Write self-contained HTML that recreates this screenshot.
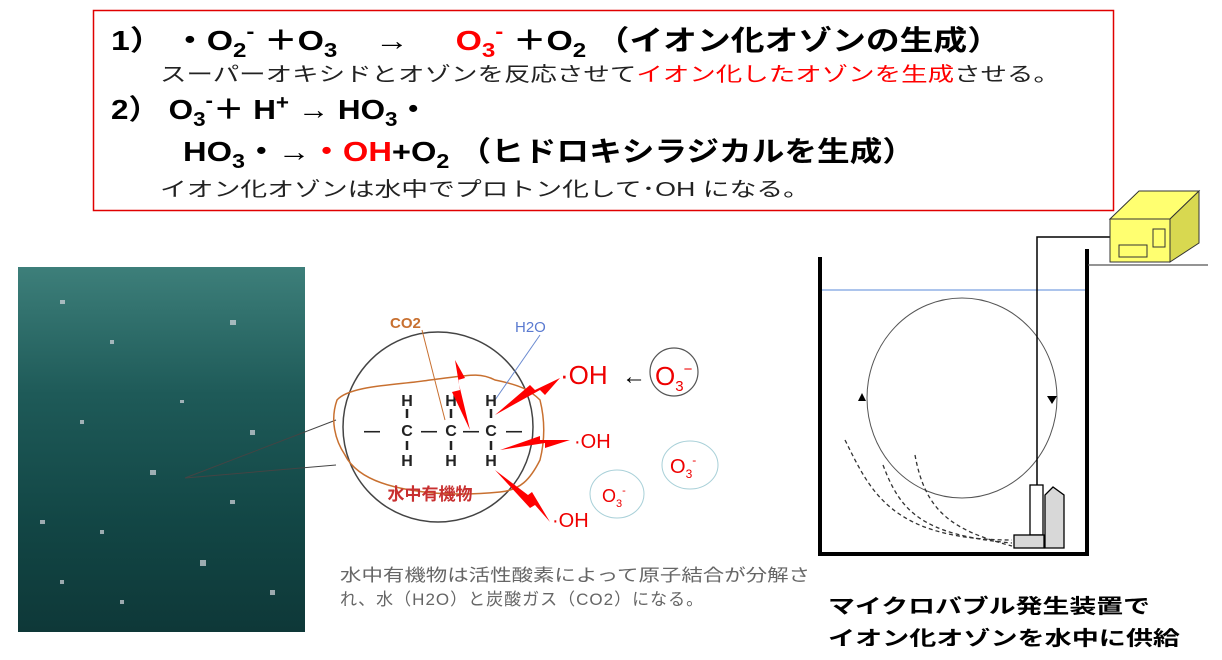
<!DOCTYPE html>
<html><head><meta charset="utf-8"><style>
body{margin:0;width:1222px;height:660px;background:#fff;position:relative;overflow:hidden;font-family:"Liberation Sans","Noto Sans CJK JP",sans-serif;}
svg{position:absolute;left:0;top:0;}
text{font-family:"Liberation Sans","Noto Sans CJK JP",sans-serif;}
</style></head><body>
<svg width="1222" height="660">
<defs><linearGradient id="g" x1="0" y1="0" x2="0" y2="1"><stop offset="0" stop-color="#3d7f7a"/><stop offset="0.35" stop-color="#1e5a58"/><stop offset="0.7" stop-color="#124645"/><stop offset="1" stop-color="#0e3838"/></linearGradient></defs>
<rect x="93.5" y="10.5" width="1020" height="200" fill="none" stroke="#e00000" stroke-width="1.5"/>
<text x="111" y="50" font-size="28" font-weight="bold" textLength="890" lengthAdjust="spacingAndGlyphs">1） ・O<tspan font-size="20" dy="7">2</tspan><tspan font-size="20" dy="-19">-</tspan><tspan dy="12">&#160;＋O</tspan><tspan font-size="20" dy="7">3</tspan><tspan dy="-7">&#160;&#160;&#160;&#160;→&#160;&#160;&#160;&#160;&#160;</tspan><tspan fill="#f00">O</tspan><tspan fill="#f00" font-size="20" dy="7">3</tspan><tspan fill="#f00" font-size="20" dy="-19">-</tspan><tspan dy="12">&#160;＋O</tspan><tspan font-size="20" dy="7">2</tspan><tspan dy="-7">&#160;（イオン化オゾンの生成）</tspan></text>
<text x="160" y="81" font-size="20" fill="#222" textLength="900" lengthAdjust="spacingAndGlyphs">スーパーオキシドとオゾンを反応させて<tspan fill="#f00">イオン化したオゾンを生成</tspan>させる。</text>
<text x="111" y="119" font-size="28" font-weight="bold" textLength="318" lengthAdjust="spacingAndGlyphs">2）&#160;O<tspan font-size="20" dy="7">3</tspan><tspan font-size="20" dy="-19">-</tspan><tspan dy="12">＋ H</tspan><tspan font-size="20" dy="-10">+</tspan><tspan dy="10" font-weight="normal">&#160;→&#160;</tspan>HO<tspan font-size="20" dy="7">3</tspan><tspan dy="-7">・</tspan></text>
<text x="183" y="161" font-size="28" font-weight="bold" textLength="732" lengthAdjust="spacingAndGlyphs">HO<tspan font-size="20" dy="7">3</tspan><tspan dy="-7">・</tspan><tspan font-weight="normal">→</tspan><tspan fill="#f00">・OH</tspan>+O<tspan font-size="20" dy="7">2</tspan><tspan dy="-7">&#160;（ヒドロキシラジカルを生成）</tspan></text>
<text x="160" y="196" font-size="20" fill="#222" textLength="650" lengthAdjust="spacingAndGlyphs">イオン化オゾンは水中でプロトン化して･OH になる。</text>

<rect x="18" y="267" width="287" height="365" fill="url(#g)"/>
<g fill="#d8d8e0" opacity="0.7">
<rect x="60" y="300" width="5" height="4"/><rect x="110" y="340" width="4" height="4"/><rect x="230" y="320" width="6" height="5"/><rect x="80" y="420" width="4" height="4"/><rect x="150" y="470" width="6" height="5"/><rect x="250" y="430" width="5" height="5"/><rect x="40" y="520" width="5" height="4"/><rect x="200" y="560" width="6" height="6"/><rect x="120" y="600" width="4" height="4"/><rect x="270" y="590" width="5" height="5"/><rect x="180" y="400" width="4" height="3"/><rect x="60" y="580" width="4" height="4"/><rect x="230" y="500" width="5" height="4"/><rect x="100" y="530" width="4" height="4"/>
</g>
<line x1="185" y1="478" x2="336" y2="420" stroke="#444" stroke-width="1"/>
<line x1="185" y1="478" x2="336" y2="465" stroke="#444" stroke-width="1"/>
<circle cx="438" cy="427" r="95" fill="#fff" stroke="#444" stroke-width="1.5"/>
<path d="M337,400 C350,385 400,385 430,380 C470,375 480,372 495,380 C520,385 530,390 540,400 C545,420 545,440 540,460 C530,480 520,490 500,492 C470,495 440,495 410,490 C380,485 355,475 345,455 C335,440 330,420 337,400 Z" fill="none" stroke="#c87030" stroke-width="1.5"/>
<line x1="445" y1="420" x2="422" y2="330" stroke="#c87030" stroke-width="1"/>
<line x1="495" y1="400" x2="540" y2="335" stroke="#6a8ad0" stroke-width="1"/>
<g font-family="Liberation Sans" font-weight="bold" font-size="16" fill="#222" text-anchor="middle">
<text x="407" y="406">H</text><text x="451" y="406">H</text><text x="491" y="406">H</text>
<text x="407" y="436">C</text><text x="451" y="436">C</text><text x="491" y="436">C</text>
<text x="407" y="466">H</text><text x="451" y="466">H</text><text x="491" y="466">H</text>
<text x="372" y="436">—</text><text x="429" y="436">—</text><text x="471" y="436">—</text><text x="514" y="436">—</text>
</g>
<g stroke="#222" stroke-width="2.5"><line x1="407" y1="409" x2="407" y2="418"/><line x1="451" y1="409" x2="451" y2="418"/><line x1="491" y1="409" x2="491" y2="418"/><line x1="407" y1="441" x2="407" y2="450"/><line x1="451" y1="441" x2="451" y2="450"/><line x1="491" y1="441" x2="491" y2="450"/></g>
<text x="430" y="500" font-size="17" font-weight="bold" fill="#c83030" text-anchor="middle">水中有機物</text>
<text x="390" y="328" font-size="15" font-weight="bold" fill="#c87030">CO2</text>
<text x="515" y="332" font-size="15" fill="#5a7ad0">H2O</text>
<g fill="#f00">
<polygon points="455,360 465,378 458,380 470,430 452,392 460,390"/>
<polygon points="560,378 545,395 540,390 495,415 530,385 535,390"/>
<polygon points="570,440 545,448 545,443 500,450 540,436 540,440"/>
<polygon points="550,522 535,505 530,508 495,470 528,495 532,492"/>
</g>
<g fill="#e00">
<text x="560" y="384" font-size="26">·OH</text>
<text x="574" y="448" font-size="20">·OH</text>
<text x="552" y="527" font-size="20">·OH</text>
</g>
<text x="622" y="384" font-size="24" fill="#000">←</text>
<circle cx="674" cy="372" r="24" fill="none" stroke="#555" stroke-width="1.2"/>
<text x="655" y="385" font-size="26" fill="#e00">O<tspan font-size="15" dy="6">3</tspan><tspan font-size="15" dy="-17">−</tspan></text>
<ellipse cx="690" cy="465" rx="28" ry="24" fill="none" stroke="#a8d0d8" stroke-width="1"/>
<text x="670" y="473" font-size="20" fill="#e00">O<tspan font-size="12" dy="5">3</tspan><tspan font-size="12" dy="-14">-</tspan></text>
<ellipse cx="617" cy="494" rx="27" ry="24" fill="none" stroke="#a8d0d8" stroke-width="1"/>
<text x="602" y="502" font-size="18" fill="#e00">O<tspan font-size="11" dy="5">3</tspan><tspan font-size="11" dy="-13">-</tspan></text>

<text x="340" y="581" font-size="17" fill="#666" textLength="470" lengthAdjust="spacingAndGlyphs">水中有機物は活性酸素によって原子結合が分解さ</text>
<text x="340" y="605" font-size="17" fill="#666" letter-spacing="1">れ、水（H2O）と炭酸ガス（CO2）になる。</text>

<!-- tank -->
<path d="M820,257 V554 H1087 V249" fill="none" stroke="#000" stroke-width="4"/>
<line x1="822" y1="290" x2="1085" y2="290" stroke="#5a8ad8" stroke-width="1"/>
<ellipse cx="962" cy="398" rx="95" ry="100" fill="none" stroke="#555" stroke-width="1"/>
<polygon points="862,393 866,401 858,401" fill="#000"/>
<polygon points="1052,404 1057,396 1047,396" fill="#000"/>
<path d="M1037,485 V237 H1110" fill="none" stroke="#000" stroke-width="1.5"/>
<line x1="1088" y1="265" x2="1208" y2="265" stroke="#555" stroke-width="1.2"/>
<polygon points="1110,219 1139,191 1199,191 1170,219" fill="#ffff70" stroke="#333"/>
<polygon points="1170,219 1199,191 1199,243 1170,262" fill="#d8d850" stroke="#333"/>
<rect x="1110" y="219" width="60" height="43" fill="#ffff70" stroke="#333"/>
<rect x="1119" y="245" width="28" height="12" fill="none" stroke="#333"/>
<rect x="1153" y="229" width="12" height="18" fill="none" stroke="#333"/>
<g fill="none" stroke="#333" stroke-width="1.3" stroke-dasharray="4,3">
<path d="M845,440 C870,490 890,540 1012,540"/>
<path d="M883,465 C900,510 920,535 1012,543"/>
<path d="M915,455 C925,510 950,530 1012,546"/>
</g>
<rect x="1030" y="485" width="13" height="50" fill="#fff" stroke="#000" stroke-width="1.3"/>
<polygon points="1045,548 1045,495 1053,487 1064,495 1064,548" fill="#d8d8d8" stroke="#000" stroke-width="1.3"/>
<rect x="1014" y="535" width="30" height="13" fill="#d8d8d8" stroke="#000" stroke-width="1.3"/>

<text x="828" y="613" font-size="20" font-weight="bold" textLength="322" lengthAdjust="spacingAndGlyphs">マイクロバブル発生装置で</text>
<text x="828" y="645" font-size="20" font-weight="bold" textLength="352" lengthAdjust="spacingAndGlyphs">イオン化オゾンを水中に供給</text>
</svg>
</body></html>
